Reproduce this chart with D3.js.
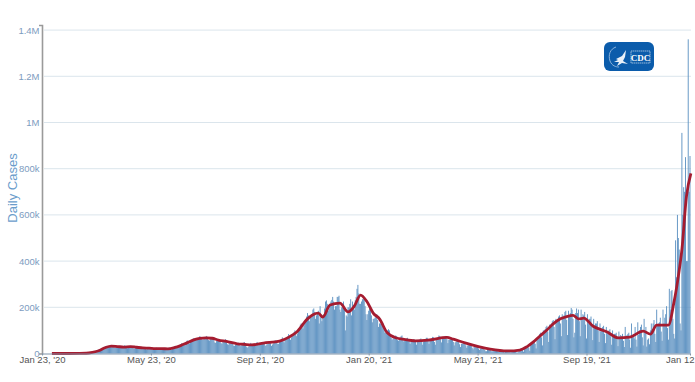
<!DOCTYPE html>
<html>
<head>
<meta charset="utf-8">
<script src="https://cdn.jsdelivr.net/npm/d3@7"></script>
<style>
  html, body { margin: 0; padding: 0; background: #fff; }
  svg { display: block; font-family: "Liberation Sans", Arial, sans-serif; }
</style>
</head>
<body>
<div id="chart"></div>
<script>
// daily cases in thousands, one row per week, first row starts on Jan 23 2020
const dailyCases = [
  0,0,0,0,0,0,0,
  0,0,0,0,0,0,0,
  0,0,0,0,0,0,0,
  0,0,0,0,0,0,0,
  0,0,0,0,0,0,0,
  0,0,0,0,0,0,0,
  0.1,0.2,0.2,0.2,0.3,0.4,0.5,
  0.6,0.8,1,1.2,1.5,2,2.5,
  4,5,6,7,9,10,11,
  17,19,19,18,20,25,25,
  29,32,33,28,29,30,31,
  35,34,30,27,26,26,29,
  31,32,30,26,26,25,28,
  33,36,33,25,23,24,27,
  31,33,28,25,22,22,25,
  28,27,25,21,19,21,22,
  27,25,24,20,18,21,21,
  26,24,21,19,17,18,19,
  23,25,24,21,18,19,20,
  22,23,22,18,17,19,19,
  22,25,25,19,17,23,26,
  28,33,32,27,26,33,37,
  40,44,42,39,38,45,50,
  55,57,48,43,49,59,62,
  65,67,62,58,60,64,67,
  74,73,65,60,60,66,70,
  72,76,66,58,56,62,68,
  69,70,58,48,46,54,54,
  58,60,55,45,42,52,54,
  55,62,50,40,38,45,46,
  47,48,43,34,33,39,40,
  45,47,41,35,32,38,42,
  47,49,38,30,25,28,36,
  37,46,40,33,32,38,39,
  46,50,41,35,38,40,42,
  45,49,43,33,36,41,40,
  47,52,47,33,39,44,47,
  57,57,51,41,42,52,54,
  63,70,53,48,60,60,64,
  74,84,75,59,70,76,80,
  92,100,85,75,87,95,105,
  125,130,125,108,122,140,145,
  160,175,165,140,155,165,170,
  190,195,180,150,165,175,185,
  130,205,155,140,165,170,195,
  225,230,215,185,195,215,225,
  232,245,225,190,205,205,245,
  245,250,190,180,200,200,225,
  190,100,165,160,200,200,215,
  235,165,225,210,190,230,245,
  280,297,260,215,215,225,235,
  235,240,205,170,145,170,185,
  195,190,165,135,150,150,155,
  165,170,145,115,130,130,130,
  125,130,105,90,90,95,100,
  105,100,85,68,60,65,72,
  70,78,75,58,55,65,68,
  75,78,62,52,55,58,65,
  68,62,55,42,50,55,58,
  62,60,50,38,50,52,55,
  62,65,52,38,52,55,60,
  68,68,60,42,58,58,65,
  72,70,50,38,65,60,70,
  78,75,62,48,65,65,72,
  76,75,62,45,60,60,62,
  65,60,50,35,48,50,55,
  58,55,40,28,42,42,48,
  50,46,35,25,35,36,38,
  38,36,25,18,28,28,30,
  33,30,22,15,22,24,25,
  25,24,16,10,10,16,20,
  20,20,12,8,14,14,16,
  17,16,10,7,11,12,14,
  15,12,7,5,11,12,13,
  13,14,7,5,13,12,14,
  15,12,5,4,6,18,18,
  21,22,16,8,24,25,27,
  33,35,26,12,40,42,45,
  55,58,42,22,65,62,68,
  85,90,70,35,100,100,105,
  115,120,95,50,125,125,130,
  140,145,115,62,150,140,150,
  160,165,130,75,170,155,165,
  180,185,145,80,185,165,175,
  197,190,150,70,90,175,195,
  175,190,140,75,190,150,170,
  165,180,125,65,170,130,150,
  150,160,115,58,150,115,130,
  130,140,100,50,130,95,110,
  115,120,85,45,115,85,95,
  100,105,75,38,100,75,85,
  85,90,65,32,95,70,80,
  75,85,55,28,115,65,80,
  85,90,60,25,130,70,85,
  65,115,60,30,135,80,100,
  115,125,70,35,150,95,115,
  30,60,65,40,100,130,105,
  130,145,85,50,190,120,130,
  135,155,95,55,190,130,155,
  170,205,110,60,280,190,270,
  275,150,85,65,490,330,600,
  500,450,130,100,955,600,720,
  700,850,400,400,1360,700,855
];

// 7-day average, read at these day numbers (days since Jan 23 2020), in thousands
const avgDays = [11,28,42,49,56,63,70,77,84,91,98,105,112,119,126,133,140,147,154,161,168,175,182,189,196,205,217,224,233,246,264,275,283,295,301,307,312,320,331,340,347,354,361,368,375,383,394,401,415,429,450,457,471,485,498,517,531,539,546,553,561,568,576,583,590,596,602,612,628,640,653,668,676,683,696,702,708,711,716,721];
const avgValues = [0,0,0.2,1,5,12,25,32,30,28,30,27,24,23,21,21,20,25,34,46,58,65,68,66,58,52,42,40,37,45,54,72,93,150,168,175,158,210,218,180,205,253,225,175,150,93,67,62,55,58,70,62,45,30,19,11,15,30,50,75,102,128,150,160,165,150,153,119,93,68,71,97,84,123,123,218,360,450,678,780];

const yTicks = [0,200,400,600,800,1000,1200,1400];
const yLabels = ["0","200k","400k","600k","800k","1M","1.2M","1.4M"];
const xTicks = ["2020-01-23","2020-05-23","2020-09-21","2021-01-20","2021-05-21","2021-09-19","2022-01-12"];
const xLabels = ["Jan 23, '20","May 23, '20","Sep 21, '20","Jan 20, '21","May 21, '21","Sep 19, '21","Jan 12"];

const width = 695;
const height = 382;
const margin = { top: 25, right: 4, bottom: 28.5, left: 42 };
const plotRight = width - margin.right;
const startDate = new Date(Date.UTC(2020, 0, 23));
const toDate = i => d3.utcDay.offset(startDate, i);

const svg = d3.select("#chart").append("svg")
  .attr("width", width)
  .attr("height", height);

const x = d3.scaleUtc()
  .domain([startDate, new Date(Date.UTC(2022, 0, 12))])
  .range([margin.left, 690]);

const y = d3.scaleLinear()
  .domain([0, 1422])
  .range([height - margin.bottom, margin.top]);

// Grid lines
svg.append("g")
  .selectAll("line")
  .data(yTicks.slice(1))
  .enter()
  .append("line")
  .attr("x1", margin.left + 2)
  .attr("x2", plotRight)
  .attr("y1", d => y(d))
  .attr("y2", d => y(d))
  .attr("stroke", "#dbe5ec")
  .attr("stroke-width", 1);

// Bars
svg.append("g")
  .selectAll("rect")
  .data(dailyCases)
  .enter()
  .append("rect")
  .attr("x", (d, i) => x(toDate(i)) - 0.45)
  .attr("y", d => y(d))
  .attr("width", 0.9)
  .attr("height", d => y(0) - y(d))
  .attr("fill", "#5a8fc0");

// 7-day moving average
const line = d3.line()
  .x((d, i) => x(toDate(avgDays[i])))
  .y(d => y(d))
  .curve(d3.curveMonotoneX);

svg.append("path")
  .datum(avgValues)
  .attr("fill", "none")
  .attr("stroke", "#a51c30")
  .attr("stroke-width", 2.8)
  .attr("stroke-linejoin", "round")
  .attr("d", line);

// Axes
const yAxis = svg.append("g")
  .attr("transform", `translate(${margin.left},0)`)
  .call(d3.axisLeft(y)
    .tickValues(yTicks)
    .tickFormat((d, i) => yLabels[i])
    .tickSizeInner(0)
    .tickSizeOuter(3)
    .tickPadding(2.5));
yAxis.select(".domain").attr("stroke", "#9a9a9a").attr("stroke-width", 1.6);
yAxis.selectAll("text").style("font-size", "9.5px").style("fill", "#7d9cc0");

const xAxis = svg.append("g")
  .attr("transform", `translate(0,${y(0)})`)
  .call(d3.axisBottom(x)
    .tickValues(xTicks.map(d => new Date(d + "T00:00:00Z")))
    .tickFormat((d, i) => xLabels[i])
    .tickSizeInner(2)
    .tickSizeOuter(0)
    .tickPadding(1));
xAxis.select(".domain").attr("stroke", "#7f93a8").attr("stroke-width", 1);
xAxis.selectAll("line").attr("stroke", "#7f93a8");
xAxis.selectAll("text").style("font-size", "9.5px").style("fill", "#555");
// last label would run off the page
xAxis.selectAll(".tick:last-of-type text").attr("text-anchor", "end").attr("x", 4);

// Y-axis label
svg.append("text")
  .attr("text-anchor", "middle")
  .attr("transform", "rotate(-90)")
  .attr("x", -188)
  .attr("y", 17)
  .style("font-size", "13px")
  .style("fill", "#6a9ccb")
  .text("Daily Cases");

// CDC logo
const logo = svg.append("g").attr("transform", "translate(604,42)");
logo.append("rect")
  .attr("width", 50)
  .attr("height", 29)
  .attr("rx", 6)
  .attr("fill", "#0b5cab");
logo.append("path")
  .attr("d", "M12 5 C6 7 4 13 6 19 C8 24 12 25 15 25")
  .attr("fill", "none")
  .attr("stroke", "#a9c6e6")
  .attr("stroke-width", 0.8);
logo.append("path")
  .attr("d", "M22 8 L18 14 L12 17 L14 18 L10 20 L15 20 L13 24 L18 21 L24 22 L19 19 L21 15 Z")
  .attr("fill", "#e8f0f8");
logo.append("rect")
  .attr("x", 27)
  .attr("y", 9)
  .attr("width", 19)
  .attr("height", 12)
  .attr("fill", "none")
  .attr("stroke", "#cfe0f0")
  .attr("stroke-width", 0.7)
  .attr("stroke-dasharray", "1.5 0.5");
logo.append("text")
  .attr("x", 36.5)
  .attr("y", 18.5)
  .attr("text-anchor", "middle")
  .style("font-family", "'Liberation Serif', serif")
  .style("font-size", "9px")
  .style("font-weight", "bold")
  .style("fill", "#fff")
  .text("CDC");
</script>
</body>
</html>
